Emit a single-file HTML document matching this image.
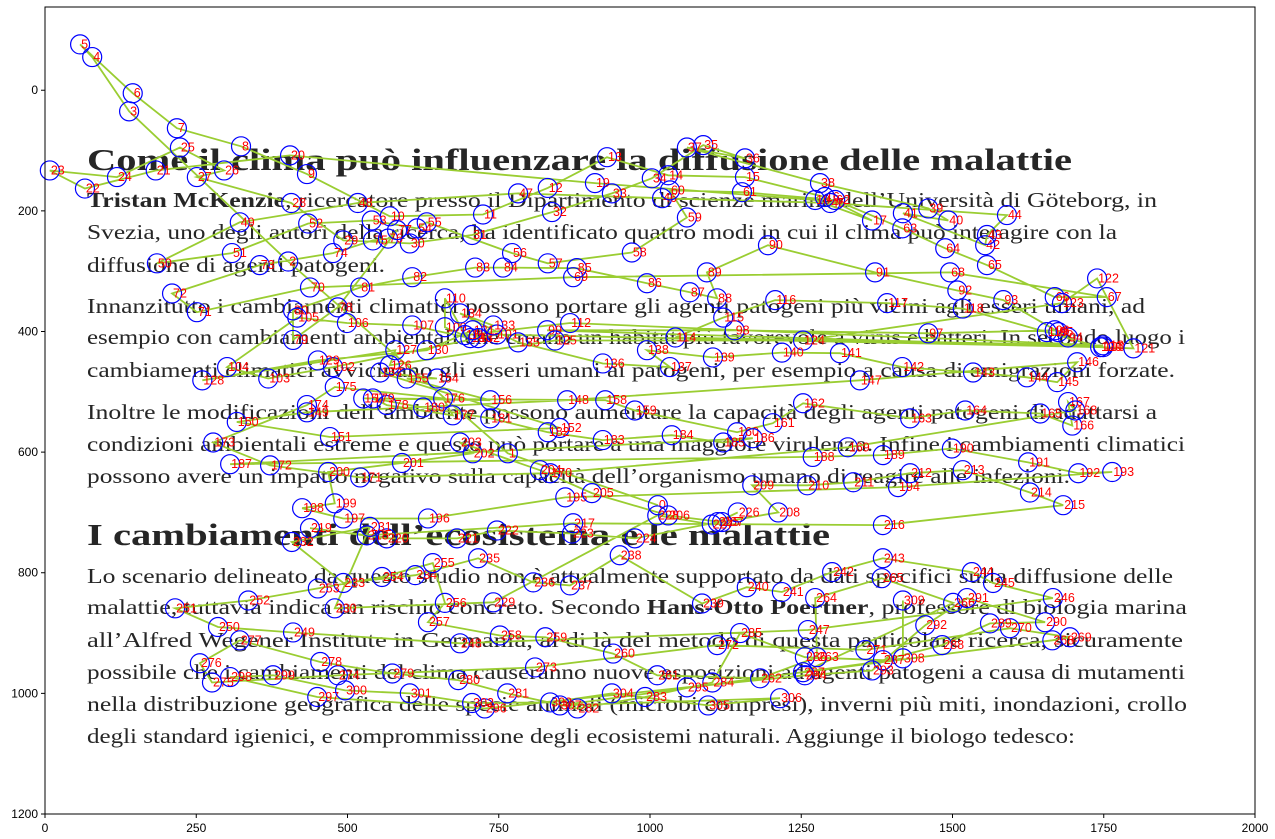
<!DOCTYPE html>
<html><head><meta charset="utf-8">
<style>
html,body{margin:0;padding:0;background:#fff;}
svg{display:block;font-family:"Liberation Sans",sans-serif;}
.bt{font-family:"Liberation Serif",serif;fill:#262626;}
</style></head>
<body>
<svg id="chart" width="1275" height="839" viewBox="0 0 1275 839" xmlns="http://www.w3.org/2000/svg">
<rect x="0" y="0" width="1275" height="839" fill="#fff"/>
<g id="bg-text"></g>
<g id="lines"></g>
<g id="pts"></g>
<rect x="45" y="7" width="1210" height="807" fill="none" stroke="#000" stroke-width="1"/>
<g id="axes"></g>
</svg>
<script>
const xTicks=[0,250,500,750,1000,1250,1500,1750,2000];
const yTicks=[0,200,400,600,800,1000,1200];
const xsData=[1013,765,402,139,78,58,145,218,324,433,570,724,831,929,1030,1157,1289,1367,1273,909,405,183,66,8,119,223,296,251,407,493,603,706,838,937,1003,1088,1157,1061,1281,1460,1493,1418,1554,1557,1590,1298,1020,782,517,322,185,309,435,540,615,631,772,831,970,1061,1033,1152,1306,1417,1488,1557,1669,1755,1496,873,438,251,210,355,476,542,567,582,484,410,410,521,607,711,757,879,995,1066,1111,1094,1195,1372,1508,1584,1691,1675,1669,1460,1140,830,1749,747,476,369,301,417,499,607,703,661,661,694,868,1749,1042,1121,1207,1392,1517,1656,1744,1799,1739,1681,1253,843,570,579,260,451,631,707,716,741,686,782,922,1033,995,1104,1218,1314,1417,1534,1623,1673,1706,1347,863,433,317,471,851,554,648,598,736,526,926,975,1144,1203,1253,1430,1521,1645,1698,1691,1703,1327,835,521,372,278,433,479,658,674,565,542,625,736,831,922,1036,1121,1170,306,1269,1385,1499,1625,1708,1764,1410,860,633,493,425,479,468,590,707,686,818,904,1030,1119,1212,1169,1260,1336,1430,1517,1628,1683,1385,873,532,438,565,681,747,871,975,1112,1145,1102,1012,741,479,537,408,493,612,716,807,868,950,1086,1160,1218,1301,1385,1532,1567,1666,1261,686,410,286,215,336,451,557,641,661,633,752,827,939,1012,1182,1276,1273,1383,1501,1253,1665,1694,1595,1356,1111,810,484,276,256,322,455,574,683,764,880,992,1103,1149,1256,1385,1483,1562,1653,1524,1455,1367,1256,1061,727,450,306,377,496,603,706,835,937,1096,1215,851,1418,1418];
const ysData=[688,602,284,35,-55,-76,5,63,93,139,209,206,162,111,141,144,177,216,182,154,108,133,163,133,144,95,133,144,187,249,254,240,202,171,146,91,113,95,154,196,216,204,257,240,207,187,179,171,187,219,287,270,221,216,229,219,270,287,269,211,166,169,182,229,262,290,343,343,302,310,327,368,337,290,270,249,246,232,360,414,365,327,310,294,294,295,320,335,345,302,257,302,332,348,410,401,398,403,398,398,426,405,459,478,459,377,386,390,411,393,345,406,386,423,410,377,348,353,362,401,426,428,312,353,415,415,456,431,481,448,431,398,411,390,370,418,453,459,431,443,435,436,459,468,476,484,451,481,514,534,550,575,560,468,478,478,514,511,514,531,567,552,519,544,531,536,556,517,531,592,635,642,622,584,522,492,511,539,522,511,526,544,567,580,572,584,577,620,608,605,594,617,635,633,658,675,710,710,693,685,633,618,602,584,630,668,705,716,700,655,655,650,635,630,667,688,721,718,738,726,743,743,730,735,743,716,700,720,705,849,859,724,749,817,804,776,816,821,771,851,824,832,799,776,799,817,842,895,917,899,890,859,846,826,807,784,850,882,904,907,934,970,975,940,842,809,850,965,912,907,892,928,920,957,970,982,950,912,948,967,978,1000,1025,1006,982,900,940,945,920,884,882,842,887,962,970,990,1025,1006,973,970,995,1000,1016,1015,1000,1020,1008,1020,942,846];
const bodyLines=[
 ["Tristan McKenzie, ricercatore presso il Dipartimento di scienze marine dell’Università di Göteborg, in",1157,207,"Tristan McKenzie"],
 ["Svezia, uno degli autori della ricerca, ha identificato quattro modi in cui il clima può interagire con la",1117,239,""],
 ["diffusione di agenti patogeni.",385,272,""],
 ["Innanzitutto i cambiamenti climatici possono portare gli agenti patogeni più vicini agli esseri umani, ad",1145,313,""],
 ["esempio con cambiamenti ambientali che creano un habitat più favorevole a virus e batteri. In secondo luogo i",1185,344,""],
 ["cambiamenti climatici avvicinano gli esseri umani ai patogeni, per esempio a causa  di emigrazioni forzate.",1175,377,""],
 ["Inoltre  le modificazioni dell’ambiente possono aumentare la capacità degli agenti patogeni di adattarsi a",1157,419,""],
 ["condizioni ambientali estreme  e questo può portare a una maggiore virulenza. Infine i cambiamenti climatici",1185,451,""],
 ["possono avere un impatto negativo sulla capacità dell’organismo umano di reagire alle infezioni.",1070,483,""],
 ["Lo scenario delineato da questo studio non è attualmente supportato da dati specifici sulla diffusione delle",1173,583,""],
 ["malattie, tuttavia indica un rischio concreto. Secondo Hans-Otto Poertner, professore di biologia marina",1187,614,""],
 ["all’Alfred Wegener Institute in Germania, al di là del metodo di questa particolare ricerca, sicuramente",1183,647,""],
 ["possibile che i cambiamenti del clima causeranno nuove esposizioni ad agenti patogeni a causa di mutamenti",1185,679,""],
 ["nella distribuzione geografica delle specie animali (microbi compresi), inverni più miti, inondazioni,  crollo",1187,711,""],
 ["degli standard igienici, e comprommissione degli ecosistemi naturali. Aggiunge il biologo tedesco:",1075,743,""]
];
const NS="http://www.w3.org/2000/svg";
const L=45,R=1255,T=7,B=814,X0=0,X1=2000,Y0=-138,Y1=1200;
function sx(v){return L+(v-X0)/(X1-X0)*(R-L);}
function sy(v){return T+(v-Y0)/(Y1-Y0)*(B-T);}
function mk(tag,attrs,parent){const e=document.createElementNS(NS,tag);for(const k in attrs)e.setAttribute(k,attrs[k]);parent.appendChild(e);return e;}
const bg=document.getElementById('bg-text');
let h=mk('text',{x:87,y:170,class:'bt','font-size':31,'font-weight':'bold',textLength:985,lengthAdjust:'spacingAndGlyphs'},bg);
h.textContent="Come il clima può influenzare la diffusione delle malattie";


h=mk('text',{x:87,y:545,class:'bt','font-size':31,'font-weight':'bold',textLength:743,lengthAdjust:'spacingAndGlyphs'},bg);
h.textContent="I cambiamenti dell’ecosistema e le malattie";


bodyLines.forEach((ln,i)=>{
  const t=mk('text',{x:87,y:ln[2],class:'bt','font-size':21,textLength:ln[1]-87,lengthAdjust:'spacingAndGlyphs'},bg);
  
  
  if(ln[3]){const b=mk('tspan',{'font-weight':'bold'},t);b.textContent=ln[3];const r=mk('tspan',{},t);r.textContent=ln[0].slice(ln[3].length);}
  else if(ln[0].indexOf("Hans-Otto Poertner")>=0){const p=ln[0].split("Hans-Otto Poertner");mk('tspan',{},t).textContent=p[0];mk('tspan',{'font-weight':'bold'},t).textContent="Hans-Otto Poertner";mk('tspan',{},t).textContent=p[1];}
  else t.textContent=ln[0];
});
const lg=document.getElementById('lines');
const pl=mk('polyline',{points:xsData.map((x,i)=>sx(x).toFixed(1)+','+sy(ysData[i]).toFixed(1)).join(' '),fill:'none',stroke:'#9acd32','stroke-width':1.8},lg);


const pg=document.getElementById('pts');
xsData.forEach((x,i)=>{
  const cx=sx(x),cy=sy(ysData[i]);
  const c=mk('circle',{cx:cx,cy:cy,r:9.5,fill:'none',stroke:'#0000ff','stroke-width':1.2},pg);
  
  
  const t=mk('text',{x:cx+1,y:cy+4,fill:'#ff0000','font-size':12.5},pg);
  t.textContent=String(i);
  
  
});
const ax=document.getElementById('axes');
xTicks.forEach(v=>{
  const x=sx(v);
  const l=mk('line',{x1:x,y1:B,x2:x,y2:B+4,stroke:'#000'},ax);
  
  
  const t=mk('text',{x:x,y:B+18,'text-anchor':'middle','font-size':12,fill:'#000'},ax);
  t.textContent=String(v);
  
  
});
yTicks.forEach(v=>{
  const y=sy(v);
  const l=mk('line',{x1:L-4,y1:y,x2:L,y2:y,stroke:'#000'},ax);
  
  
  const t=mk('text',{x:L-7,y:y+4,'text-anchor':'end','font-size':12,fill:'#000'},ax);
  t.textContent=String(v);
  
  
});
</script>
</body></html>
